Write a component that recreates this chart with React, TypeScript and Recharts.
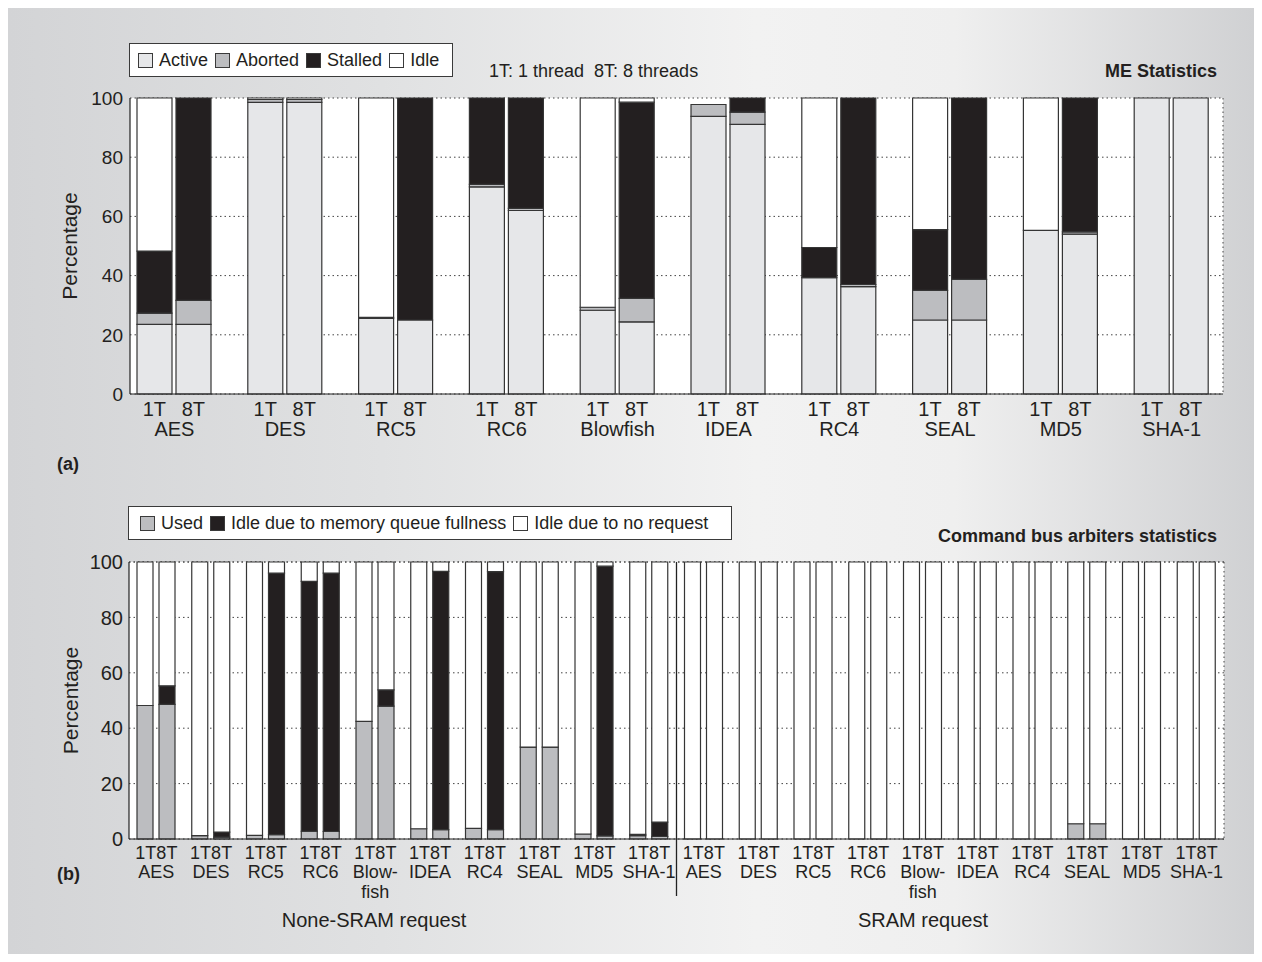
import React from "react";
import { BarChart, Bar, XAxis, YAxis, CartesianGrid, ReferenceLine, Label } from "recharts";

// categories
const algorithms = ["AES", "DES", "RC5", "RC6", "Blowfish", "IDEA", "RC4", "SEAL", "MD5", "SHA-1"];
const busLabels = ["AES", "DES", "RC5", "RC6", "Blow-|fish", "IDEA", "RC4", "SEAL", "MD5", "SHA-1"];
const yTicks = [0, 20, 40, 60, 80, 100];

// (a) ME statistics, percent
const meActive1T = [23.5, 98.5, 25.5, 70, 28.3, 93.8, 39.3, 25, 55.3, 100];
const meAborted1T = [3.8, 1, 0.4, 0.8, 1, 4, 0, 10, 0, 0];
const meStalled1T = [21, 0, 0, 29.2, 0, 0, 10.2, 20.5, 0, 0];
const meIdle1T = [51.7, 0.5, 74.1, 0, 70.7, 0, 50.5, 44.5, 44.7, 0];
const meActive8T = [23.5, 98.5, 25, 62, 24.4, 91.1, 36.3, 25, 54, 100];
const meAborted8T = [8.1, 1, 0, 0.7, 7.9, 4.1, 0.7, 13.7, 0.8, 0];
const meStalled8T = [68.4, 0, 75, 37.3, 66.3, 4.8, 63, 61.3, 45.2, 0];
const meIdle8T = [0, 0.5, 0, 0, 1.4, 0, 0, 0, 0, 0];

// (b) command bus arbiters, none-SRAM request
const nsUsed1T = [48.2, 1.2, 1.3, 2.8, 42.5, 3.7, 3.8, 33.2, 1.8, 1.2];
const nsQueue1T = [0, 0, 0, 90.2, 0, 0, 0, 0, 0, 0.5];
const nsNoReq1T = [51.8, 98.8, 98.7, 7, 57.5, 96.3, 96.2, 66.8, 98.2, 98.3];
const nsUsed8T = [48.6, 0.7, 1.6, 2.7, 48, 3.4, 3.4, 33.2, 1.1, 0.9];
const nsQueue8T = [6.7, 1.8, 94.4, 93.3, 5.8, 93.2, 93.1, 0, 97.4, 5.2];
const nsNoReq8T = [44.7, 97.5, 4, 4, 46.2, 3.4, 3.5, 66.8, 1.5, 93.9];

// (b) SRAM request
const srUsed1T = [0, 0, 0, 0, 0, 0, 0, 5.5, 0, 0];
const srQueue1T = [0, 0, 0, 0, 0, 0, 0, 0, 0, 0];
const srNoReq1T = [100, 100, 100, 100, 100, 100, 100, 94.5, 100, 100];
const srUsed8T = [0, 0, 0, 0, 0, 0, 0, 5.5, 0, 0];
const srQueue8T = [0, 0, 0, 0, 0, 0, 0, 0, 0, 0];
const srNoReq8T = [100, 100, 100, 100, 100, 100, 100, 94.5, 100, 100];

const FONT = "Arial, 'Liberation Sans', Helvetica, sans-serif";
const INK = "#231f20";
const EDGE = "#353535";
const LIGHT = "#e6e7e9";
const MID = "#bcbdc0";
const DARK = "#231f20";
const WHITE = "#ffffff";

const meRows = algorithms.map((name, i) => ({
  name,
  active1: meActive1T[i],
  aborted1: meAborted1T[i],
  stalled1: meStalled1T[i],
  idle1: meIdle1T[i],
  active8: meActive8T[i],
  aborted8: meAborted8T[i],
  stalled8: meStalled8T[i],
  idle8: meIdle8T[i],
}));

const busRows = [
  ...algorithms.map((a, i) => ({
    id: "N-" + a,
    label: busLabels[i],
    used1: nsUsed1T[i],
    queue1: nsQueue1T[i],
    noreq1: nsNoReq1T[i],
    used8: nsUsed8T[i],
    queue8: nsQueue8T[i],
    noreq8: nsNoReq8T[i],
  })),
  ...algorithms.map((a, i) => ({
    id: "S-" + a,
    label: busLabels[i],
    used1: srUsed1T[i],
    queue1: srQueue1T[i],
    noreq1: srNoReq1T[i],
    used8: srUsed8T[i],
    queue8: srQueue8T[i],
    noreq8: srNoReq8T[i],
  })),
];

const TickA = (props: any) => {
  const { x, y, payload } = props;
  return (
    <g fill={INK} fontSize={20}>
      <text x={x - 20} y={y + 20} textAnchor="middle">1T</text>
      <text x={x + 19} y={y + 20} textAnchor="middle">8T</text>
      <text x={x} y={y + 40} textAnchor="middle">{payload.value}</text>
    </g>
  );
};

const TickB = (props: any) => {
  const { x, y, index } = props;
  const lines = busRows[index].label.split("|");
  return (
    <g fill={INK} fontSize={18}>
      <text x={x} y={y + 18} textAnchor="middle">1T8T</text>
      {lines.map((l: string, k: number) => (
        <text key={k} x={x} y={y + 37 + k * 20} textAnchor="middle">{l}</text>
      ))}
    </g>
  );
};

const yLabel = (dx: number) => (p: any) => {
  const { x, y, height } = p.viewBox;
  const cx = x + dx;
  const cy = y + height / 2;
  return (
    <text x={cx} y={cy} transform={`rotate(-90 ${cx} ${cy})`} textAnchor="middle" fontSize={21} fill={INK}>
      Percentage
    </text>
  );
};

const LegendBox = ({ items, style }: { items: { label: string; color: string }[]; style: React.CSSProperties }) => (
  <div
    style={{
      position: "absolute",
      boxSizing: "border-box",
      height: 34,
      border: "1.5px solid #3a3a3a",
      background: "#fff",
      display: "flex",
      alignItems: "center",
      paddingLeft: 8,
      fontSize: 18,
      color: INK,
      whiteSpace: "nowrap",
      ...style,
    }}
  >
    {items.map((it) => (
      <span key={it.label} style={{ display: "flex", alignItems: "center", marginRight: 7 }}>
        <span
          style={{
            display: "inline-block",
            boxSizing: "border-box",
            width: 15,
            height: 15,
            background: it.color,
            border: "1.5px solid #3a3a3a",
            marginRight: 6,
          }}
        />
        {it.label}
      </span>
    ))}
  </div>
);

const textStyle = (extra: React.CSSProperties): React.CSSProperties => ({
  position: "absolute",
  fontSize: 18,
  lineHeight: "18px",
  color: INK,
  whiteSpace: "nowrap",
  ...extra,
});

const rightEdge = ({ offset }: any) => [offset.left + offset.width];

export default function App() {
  return (
    <div
      style={{
        position: "relative",
        width: 1246,
        height: 946,
        fontFamily: FONT,
        background:
          "linear-gradient(90deg, #d3d4d6 0%, #e0e1e2 30%, #f2f2f2 60%, #efefef 76%, #d0d1d3 100%)",
        overflow: "hidden",
      }}
    >
      {/* (a) ME statistics */}
      <div style={{ position: "absolute", left: 0, top: 0 }}>
        <BarChart
          width={1246}
          height={450}
          data={meRows}
          margin={{ top: 90, right: 31, left: 62, bottom: 14 }}
          barSize={35}
          barGap={4}
        >
          <CartesianGrid
            fill="#fff"
            stroke="#444"
            strokeDasharray="1.5 3"
            verticalCoordinatesGenerator={rightEdge}
          />
          <XAxis
            dataKey="name"
            interval={0}
            height={50}
            padding={{ left: -11, right: -4 }}
            tick={<TickA />}
            tickLine={false}
            tickSize={0}
            axisLine={{ stroke: "#222", strokeWidth: 1.2 }}
          />
          <YAxis
            domain={[0, 100]}
            ticks={yTicks}
            width={60}
            tick={{ fontSize: 19, fill: INK }}
            tickLine={false}
            tickMargin={1}
            axisLine={{ stroke: "#222", strokeWidth: 1.2 }}
          >
            <Label content={yLabel(7)} />
          </YAxis>
          <Bar dataKey="active1" stackId="1T" fill={LIGHT} stroke={EDGE} strokeWidth={1.2} isAnimationActive={false} />
          <Bar dataKey="aborted1" stackId="1T" fill={MID} stroke={EDGE} strokeWidth={1.2} isAnimationActive={false} />
          <Bar dataKey="stalled1" stackId="1T" fill={DARK} stroke={EDGE} strokeWidth={1.2} isAnimationActive={false} />
          <Bar dataKey="idle1" stackId="1T" fill={WHITE} stroke={EDGE} strokeWidth={1.2} isAnimationActive={false} />
          <Bar dataKey="active8" stackId="8T" fill={LIGHT} stroke={EDGE} strokeWidth={1.2} isAnimationActive={false} />
          <Bar dataKey="aborted8" stackId="8T" fill={MID} stroke={EDGE} strokeWidth={1.2} isAnimationActive={false} />
          <Bar dataKey="stalled8" stackId="8T" fill={DARK} stroke={EDGE} strokeWidth={1.2} isAnimationActive={false} />
          <Bar dataKey="idle8" stackId="8T" fill={WHITE} stroke={EDGE} strokeWidth={1.2} isAnimationActive={false} />
        </BarChart>
      </div>

      <LegendBox
        style={{ left: 121, top: 35, width: 324 }}
        items={[
          { label: "Active", color: LIGHT },
          { label: "Aborted", color: MID },
          { label: "Stalled", color: DARK },
          { label: "Idle", color: WHITE },
        ]}
      />
      <div style={textStyle({ left: 481, top: 54 })}>1T: 1 thread&nbsp;&nbsp;8T: 8 threads</div>
      <div style={textStyle({ right: 37, top: 54, fontWeight: "bold" })}>ME Statistics</div>
      <div style={textStyle({ left: 49, top: 447, fontWeight: "bold" })}>(a)</div>

      {/* (b) Command bus arbiters statistics */}
      <div style={{ position: "absolute", left: 0, top: 470 }}>
        <BarChart
          width={1246}
          height={470}
          data={busRows}
          margin={{ top: 84, right: 30, left: 61, bottom: 49 }}
          barSize={16}
          barGap={6}
        >
          <CartesianGrid
            fill="#fff"
            stroke="#444"
            strokeDasharray="1.5 3"
            verticalCoordinatesGenerator={rightEdge}
          />
          <XAxis
            dataKey="id"
            interval={0}
            height={60}
            tick={<TickB />}
            tickLine={false}
            tickSize={0}
            axisLine={{ stroke: "#222", strokeWidth: 1.2 }}
          />
          <YAxis
            domain={[0, 100]}
            ticks={yTicks}
            width={60}
            tick={{ fontSize: 20, fill: INK }}
            tickLine={false}
            tickMargin={0}
            axisLine={{ stroke: "#222", strokeWidth: 1.2 }}
          >
            <Label content={yLabel(9)} />
          </YAxis>
          <Bar dataKey="used1" stackId="1T" fill={MID} stroke={EDGE} strokeWidth={1.2} isAnimationActive={false} />
          <Bar dataKey="queue1" stackId="1T" fill={DARK} stroke={EDGE} strokeWidth={1.2} isAnimationActive={false} />
          <Bar dataKey="noreq1" stackId="1T" fill={WHITE} stroke={EDGE} strokeWidth={1.2} isAnimationActive={false} />
          <Bar dataKey="used8" stackId="8T" fill={MID} stroke={EDGE} strokeWidth={1.2} isAnimationActive={false} />
          <Bar dataKey="queue8" stackId="8T" fill={DARK} stroke={EDGE} strokeWidth={1.2} isAnimationActive={false} />
          <Bar dataKey="noreq8" stackId="8T" fill={WHITE} stroke={EDGE} strokeWidth={1.2} isAnimationActive={false} />
          <ReferenceLine
            x="S-AES"
            position="start"
            stroke="#222"
            shape={(p: any) => (
              <line
                x1={p.x1}
                y1={Math.min(p.y1, p.y2)}
                x2={p.x2}
                y2={Math.max(p.y1, p.y2) + 57}
                stroke="#222"
                strokeWidth={1.3}
              />
            )}
          />
        </BarChart>
      </div>

      <LegendBox
        style={{ left: 120, top: 498, width: 604, paddingLeft: 11 }}
        items={[
          { label: "Used", color: MID },
          { label: "Idle due to memory queue fullness", color: DARK },
          { label: "Idle due to no request", color: WHITE },
        ]}
      />
      <div style={textStyle({ right: 37, top: 519, fontWeight: "bold" })}>Command bus arbiters statistics</div>
      <div style={textStyle({ left: 49, top: 857, fontWeight: "bold" })}>(b)</div>
      <div style={textStyle({ left: 366, top: 902, fontSize: 20, lineHeight: "20px", transform: "translateX(-50%)" })}>
        None-SRAM request
      </div>
      <div style={textStyle({ left: 915, top: 902, fontSize: 20, lineHeight: "20px", transform: "translateX(-50%)" })}>
        SRAM request
      </div>
    </div>
  );
}
